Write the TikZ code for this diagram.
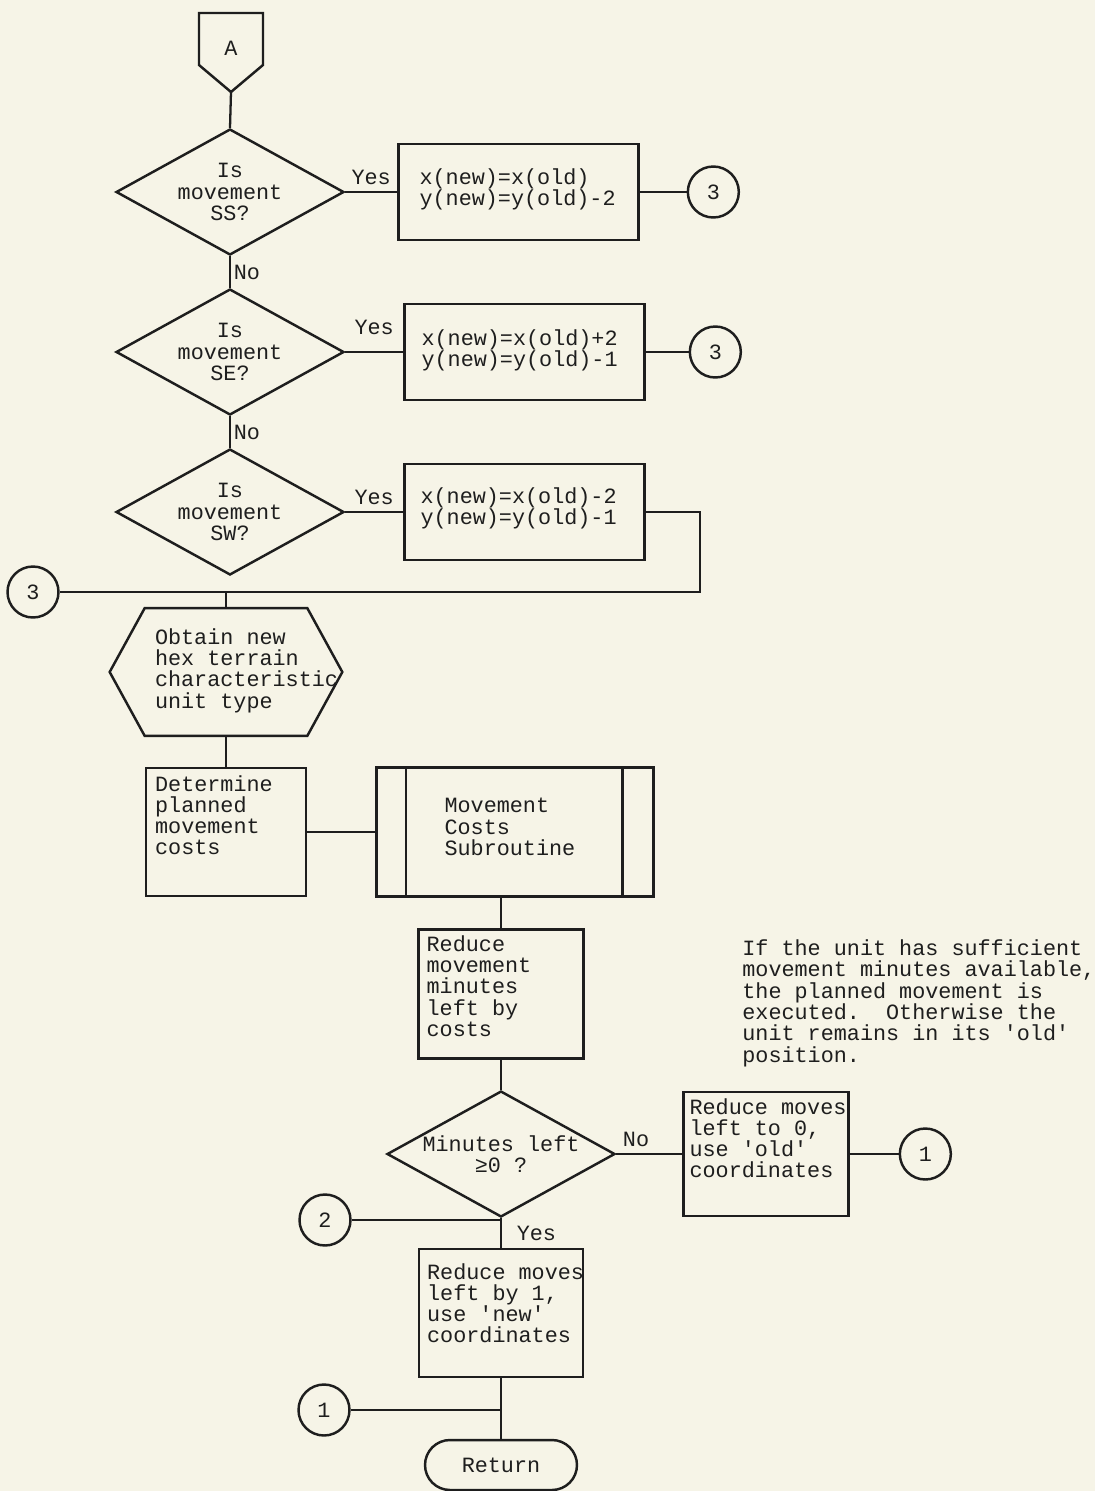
\documentclass[tikz,border=0pt]{standalone}
\usepackage{fontspec}
\setmonofont{Liberation Mono}
\usepackage{tikz}
\usetikzlibrary{shapes.geometric, positioning, calc}
\definecolor{paper}{HTML}{F6F4E7}
\definecolor{ink}{HTML}{1E1E1E}

\begin{document}
\begin{tikzpicture}[
  x=0.02cm, y=-0.02cm,
  every node/.style={font=\ttfamily\fontsize{12.4}{12.1}\selectfont, text=ink},
  inkline/.style={line width=1.4pt, draw=ink, line join=miter},
  link/.style={line width=1.3pt, draw=ink},
  proc/.style={inkline, rectangle, inner sep=0pt},
  eqbox/.style={proc, minimum width=4.8cm, minimum height=1.92cm},
  decision/.style={inkline, diamond, aspect=1.8, inner sep=0pt,
                   minimum width=4.56cm, minimum height=2.52cm, align=center},
  conn/.style={inkline, circle, inner sep=0pt, minimum size=1.02cm},
  term/.style={inkline, rectangle, rounded corners=0.5cm,
               minimum width=3.04cm, minimum height=1cm},
  txt/.style={anchor=base west, align=left, inner sep=0pt},
]

\fill[paper] (0,0) rectangle (1095,1491);
\useasboundingbox (0,0) rectangle (1095,1491);

% Entry connector
\node[inner sep=0pt] (A) at (231,48) {A};
\draw[inkline] ([shift={(-32,-35)}]A.center) -- ([shift={(32,-35)}]A.center)
  -- ([shift={(32,17)}]A.center) -- ([shift={(0,44)}]A.center) coordinate (Atip)
  -- ([shift={(-32,17)}]A.center) -- cycle;

% Direction tests (text anchored on its last baseline)
\node[decision] (ss) at (230,192) {Is\\movement\\SS?};
\node[eqbox, right=1.04cm of ss] (ssnew) {};
\node[conn, right=0.94cm of ssnew] (ssjump) {3};
\node[txt] (ssnewtxt) at ([shift={(22,63)}]ssnew.north west) {x(new)=x(old)\\y(new)=y(old)-2};

\node[decision] (se) at (230,352) {Is\\movement\\SE?};
\node[eqbox, right=1.16cm of se] (senew) {};
\node[conn, right=0.86cm of senew] (sejump) {3};
\node[txt] (senewtxt) at ([shift={(18,64)}]senew.north west) {x(new)=x(old)+2\\y(new)=y(old)-1};

\node[decision] (sw) at (230,512) {Is\\movement\\SW?};
\node[eqbox, right=1.16cm of sw] (swnew) {};
\node[txt] (swnewtxt) at ([shift={(17,62)}]swnew.north west) {x(new)=x(old)-2\\y(new)=y(old)-1};

% Join point 3
\node[conn] (join) at (33,592) {3};
\coordinate (busend) at (700,592);

% Terrain and costs
\node[minimum width=4.64cm, minimum height=2.54cm, inner sep=0pt] (hex) at (226,672) {};
\draw[inkline] (hex.west) -- ([xshift=0.7cm]hex.north west) -- ([xshift=-0.7cm]hex.north east)
  -- (hex.east) -- ([xshift=-0.7cm]hex.south east) -- ([xshift=0.7cm]hex.south west) -- cycle;
\node[txt] (hextxt) at ([shift={(45,100)}]hex.north west) {Obtain new\\hex terrain\\characteristic\\unit type};

\node[proc, minimum width=3.2cm, minimum height=2.56cm] (cost) at (226,832) {};
\node[txt] (costtxt) at ([shift={(10,88)}]cost.north west) {Determine\\planned\\movement\\costs};
\node[proc, minimum width=5.54cm, minimum height=2.58cm, right=1.36cm of cost] (sub) {};
\draw[inkline] ([xshift=0.62cm]sub.north west) -- ([xshift=0.62cm]sub.south west);
\draw[inkline] ([xshift=-0.64cm]sub.north east) -- ([xshift=-0.64cm]sub.south east);
\node[txt] (subtxt) at ([shift={(69,89)}]sub.north west) {Movement\\Costs\\Subroutine};

\node[proc, minimum width=3.3cm, minimum height=2.58cm] (spend) at (501,994) {};
\node[txt] (spendtxt) at ([shift={(9,108)}]spend.north west) {Reduce\\movement\\minutes\\left by\\costs};

\node[txt] (note) at (742,1062) {If the unit has sufficient\\movement minutes available,\\the planned movement is\\executed.\ \ Otherwise the\\unit remains in its 'old'\\position.};

% Enough minutes?
\node[decision] (minleft) at (501,1154) {Minutes left\\≥0 ?};
\node[proc, minimum width=3.3cm, minimum height=2.48cm, right=1.32cm of minleft] (stay) {};
\node[txt] (staytxt) at ([shift={(7,87)}]stay.north west) {Reduce moves\\left to 0,\\use 'old'\\coordinates};
\node[conn, right=0.98cm of stay] (stayjump) {1};

\node[conn] (entry) at (325,1220) {2};
\node[proc, minimum width=3.28cm, minimum height=2.56cm] (move) at (501,1313) {};
\node[txt] (movetxt) at ([shift={(9,95)}]move.north west) {Reduce moves\\left by 1,\\use 'new'\\coordinates};

\node[conn] (back) at (324,1410) {1};
\node[term] (ret) at (501,1465) {Return};

% Connectors
\draw[link] (Atip) -- (ss.north);
\draw[link] (ss.east) -- node[above] (ssyes) {Yes} (ssnew.west);
\draw[link] (ssnew.east) -- (ssjump.west);
\draw[link] (ss.south) -- node[right, inner sep=1.5pt] (ssno) {No} (se.north);
\draw[link] (se.east) -- node[above=6pt] (seyes) {Yes} (senew.west);
\draw[link] (senew.east) -- (sejump.west);
\draw[link] (se.south) -- node[right, inner sep=1.5pt] (seno) {No} (sw.north);
\draw[link] (sw.east) -- node[above] (swyes) {Yes} (swnew.west);
\draw[link] (swnew.east) -| (busend) -- (join.east);
\draw[link] (hex.north |- join) -- (hex.north);
\draw[link] (hex.south) -- (cost.north);
\draw[link] (cost.east) -- (sub.west |- cost.east);
\draw[link] (spend.north |- sub.south) -- (spend.north);
\draw[link] (spend.south) -- (minleft.north);
\draw[link] (minleft.east) -- node[above, pos=0.3] (minno) {No} (stay.west);
\draw[link] (stay.east) -- (stayjump.west);
\draw[link] (entry.east) -- (entry.east -| minleft.south);
\draw[link] (minleft.south) -- node[right=5pt] (minyes) {Yes} (move.north);
\draw[link] (move.south) -- (ret.north);
\draw[link] (back.east) -- (back.east -| ret.north);

\end{tikzpicture}
\end{document}
